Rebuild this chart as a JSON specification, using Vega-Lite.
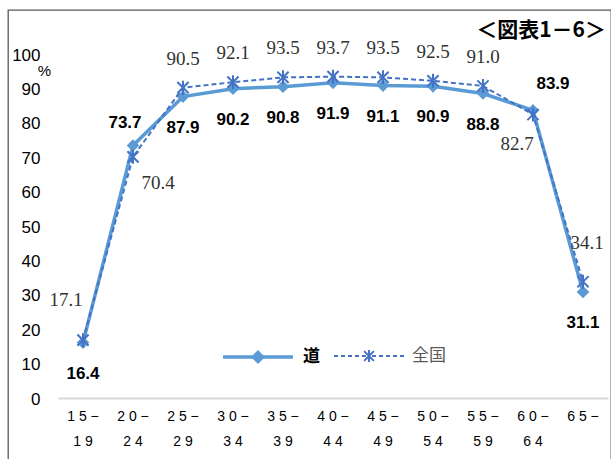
{
  "$schema": "https://vega.github.io/schema/vega-lite/v6.json",
  "width": 603,
  "height": 460,
  "autosize": "none",
  "padding": {"left": 8, "top": 10, "right": 0, "bottom": 0},
  "background": "white",
  "config": {
    "view": {"stroke": "#595959", "strokeWidth": 1.3, "fill": "white"},
    "font": "Liberation Sans"
  },
  "title": {
    "text": "＜図表1－6＞",
    "orient": "top",
    "anchor": "end",
    "frame": "group",
    "offset": -17,
    "dy": 25,
    "baseline": "middle",
    "dx": -5,
    "font": "Noto Sans CJK JP",
    "fontSize": 21,
    "fontWeight": "bold",
    "color": "#000000"
  },
  "datasets": {
    "rates": [
      {"age": "15-19", "series": "道", "value": 16.4},
      {"age": "20-24", "series": "道", "value": 73.7},
      {"age": "25-29", "series": "道", "value": 87.9},
      {"age": "30-34", "series": "道", "value": 90.2},
      {"age": "35-39", "series": "道", "value": 90.8},
      {"age": "40-44", "series": "道", "value": 91.9},
      {"age": "45-49", "series": "道", "value": 91.1},
      {"age": "50-54", "series": "道", "value": 90.9},
      {"age": "55-59", "series": "道", "value": 88.8},
      {"age": "60-64", "series": "道", "value": 83.9},
      {"age": "65-", "series": "道", "value": 31.1},
      {"age": "15-19", "series": "全国", "value": 17.1},
      {"age": "20-24", "series": "全国", "value": 70.4},
      {"age": "25-29", "series": "全国", "value": 90.5},
      {"age": "30-34", "series": "全国", "value": 92.1},
      {"age": "35-39", "series": "全国", "value": 93.5},
      {"age": "40-44", "series": "全国", "value": 93.7},
      {"age": "45-49", "series": "全国", "value": 93.5},
      {"age": "50-54", "series": "全国", "value": 92.5},
      {"age": "55-59", "series": "全国", "value": 91.0},
      {"age": "60-64", "series": "全国", "value": 82.7},
      {"age": "65-", "series": "全国", "value": 34.1}
    ]
  },
  "data": {"name": "rates"},
  "encoding": {
    "x": {
      "field": "age",
      "type": "nominal",
      "sort": null,
      "scale": {"type": "band", "range": [50, 600], "paddingInner": 0, "paddingOuter": 0},
      "axis": {
        "title": null,
        "orient": "bottom",
        "offset": -72,
        "domainColor": "#d9d9d9",
        "domainWidth": 2,
        "ticks": false,
        "grid": false,
        "labelAngle": 0,
        "labelFont": "Liberation Sans",
        "labelFontSize": 14,
        "labelColor": "#000000",
        "labelBaseline": "top",
        "labelLineHeight": 25,
        "labelPadding": 11,
        "labelExpr": "[join(split(split(datum.value, '-')[0], ''), ' ') + ' −', join(split(split(datum.value, '-')[1], ''), ' ')]"
      }
    },
    "y": {
      "field": "value",
      "type": "quantitative",
      "scale": {"domain": [0, 100], "range": [389, 45], "nice": false},
      "axis": {
        "values": [0, 10, 20, 30, 40, 50, 60, 70, 80, 90, 100],
        "offset": -50,
        "domain": false,
        "ticks": false,
        "grid": false,
        "labelFont": "Liberation Sans",
        "labelFontSize": 17,
        "labelColor": "#000000",
        "labelPadding": 18,
        "title": "%",
        "titleAngle": 0,
        "titleX": -14,
        "titleY": 60,
        "titleAlign": "center",
        "titleBaseline": "middle",
        "titleFont": "Liberation Sans",
        "titleFontSize": 15,
        "titleFontWeight": "normal",
        "titleColor": "#000000"
      }
    }
  },
  "layer": [
    {
      "transform": [{"filter": {"field": "series", "equal": "道"}}],
      "mark": {"type": "line", "strokeWidth": 3.5},
      "encoding": {
        "color": {
          "field": "series",
          "type": "nominal",
          "scale": {"domain": ["道"], "range": ["#5b9bd5"]},
          "legend": {
            "orient": "none",
            "legendX": 213,
            "legendY": 310,
            "title": null,
            "padding": 0,
            "symbolType": "M-1,0L1,0M0,-0.13L0.13,0L0,0.13L-0.13,0Z",
            "symbolSize": 4900,
            "symbolStrokeWidth": 3.5,
            "symbolFillColor": "#5b9bd5",
            "symbolStrokeColor": "#5b9bd5",
            "labelFont": "Noto Sans CJK JP",
            "labelFontSize": 17,
            "labelFontWeight": "bold",
            "labelColor": "#000000",
            "labelOffset": 8
          }
        }
      }
    },
    {
      "transform": [{"filter": {"field": "series", "equal": "道"}}],
      "mark": {"type": "point", "shape": "diamond", "filled": true, "size": 160, "opacity": 1},
      "encoding": {
        "color": {"field": "series", "type": "nominal"}
      }
    },
    {
      "transform": [{"filter": {"field": "series", "equal": "全国"}}],
      "mark": {"type": "line", "strokeWidth": 2, "strokeDash": [5, 3]},
      "encoding": {
        "stroke": {
          "field": "series",
          "type": "nominal",
          "scale": {"domain": ["全国"], "range": ["#4472c4"]},
          "legend": {
            "orient": "none",
            "legendX": 325,
            "legendY": 310,
            "title": null,
            "padding": 0,
            "symbolType": "M-1,0L-0.886,0M-0.8,0L-0.686,0M-0.6,0L-0.486,0M-0.4,0L-0.286,0M-0.2,0L-0.086,0M0.086,0L0.2,0M0.286,0L0.4,0M0.486,0L0.6,0M0.686,0L0.8,0M0.886,0L1,0M-0.14,-0.14L0.14,0.14M-0.14,0.14L0.14,-0.14M0,-0.17L0,0.17",
            "symbolSize": 4900,
            "symbolStrokeWidth": 2,
            "symbolFillColor": "transparent",
            "symbolStrokeColor": "#4472c4",
            "labelFont": "Noto Sans CJK JP",
            "labelFontSize": 17,
            "labelFontWeight": "normal",
            "labelColor": "#595959",
            "labelOffset": 7
          }
        }
      }
    },
    {
      "transform": [{"filter": {"field": "series", "equal": "全国"}}],
      "mark": {"type": "point", "shape": "M-0.8,-0.8L0.8,0.8M-0.8,0.8L0.8,-0.8M0,-1L0,1", "filled": false, "size": 196, "strokeWidth": 2, "opacity": 1},
      "encoding": {
        "stroke": {"field": "series", "type": "nominal"}
      }
    },
    {
      "transform": [{"filter": {"and": [{"field": "series", "equal": "道"}, {"field": "age", "oneOf": ["15-19", "25-29", "30-34", "35-39", "40-44", "45-49", "50-54", "55-59", "65-"]}]}}],
      "mark": {"type": "text", "dy": 31, "font": "Liberation Sans", "fontSize": 17, "fontWeight": "bold", "color": "#000000"},
      "encoding": {"text": {"field": "value", "type": "quantitative", "format": ".1f"}}
    },
    {
      "transform": [{"filter": {"and": [{"field": "series", "equal": "道"}, {"field": "age", "equal": "20-24"}]}}],
      "mark": {"type": "text", "dx": -8, "dy": -22, "font": "Liberation Sans", "fontSize": 17, "fontWeight": "bold", "color": "#000000"},
      "encoding": {"text": {"field": "value", "type": "quantitative", "format": ".1f"}}
    },
    {
      "transform": [{"filter": {"and": [{"field": "series", "equal": "道"}, {"field": "age", "equal": "60-64"}]}}],
      "mark": {"type": "text", "dx": 20, "dy": -26, "font": "Liberation Sans", "fontSize": 17, "fontWeight": "bold", "color": "#000000"},
      "encoding": {"text": {"field": "value", "type": "quantitative", "format": ".1f"}}
    },
    {
      "transform": [{"filter": {"and": [{"field": "series", "equal": "全国"}, {"field": "age", "oneOf": ["25-29", "30-34", "35-39", "40-44", "45-49", "50-54", "55-59"]}]}}],
      "mark": {"type": "text", "dy": -29, "font": "Liberation Serif", "fontSize": 19, "color": "#333333"},
      "encoding": {"text": {"field": "value", "type": "quantitative", "format": ".1f"}}
    },
    {
      "transform": [{"filter": {"and": [{"field": "series", "equal": "全国"}, {"field": "age", "equal": "15-19"}]}}],
      "mark": {"type": "text", "dx": -17, "dy": -40, "font": "Liberation Serif", "fontSize": 19, "color": "#333333"},
      "encoding": {"text": {"field": "value", "type": "quantitative", "format": ".1f"}}
    },
    {
      "transform": [{"filter": {"and": [{"field": "series", "equal": "全国"}, {"field": "age", "equal": "20-24"}]}}],
      "mark": {"type": "text", "dx": 25, "dy": 26, "font": "Liberation Serif", "fontSize": 19, "color": "#333333"},
      "encoding": {"text": {"field": "value", "type": "quantitative", "format": ".1f"}}
    },
    {
      "transform": [{"filter": {"and": [{"field": "series", "equal": "全国"}, {"field": "age", "equal": "60-64"}]}}],
      "mark": {"type": "text", "dx": -16, "dy": 29, "font": "Liberation Serif", "fontSize": 19, "color": "#333333"},
      "encoding": {"text": {"field": "value", "type": "quantitative", "format": ".1f"}}
    },
    {
      "transform": [{"filter": {"and": [{"field": "series", "equal": "全国"}, {"field": "age", "equal": "65-"}]}}],
      "mark": {"type": "text", "dx": 4, "dy": -39, "font": "Liberation Serif", "fontSize": 19, "color": "#333333"},
      "encoding": {"text": {"field": "value", "type": "quantitative", "format": ".1f"}}
    }
  ]
}
